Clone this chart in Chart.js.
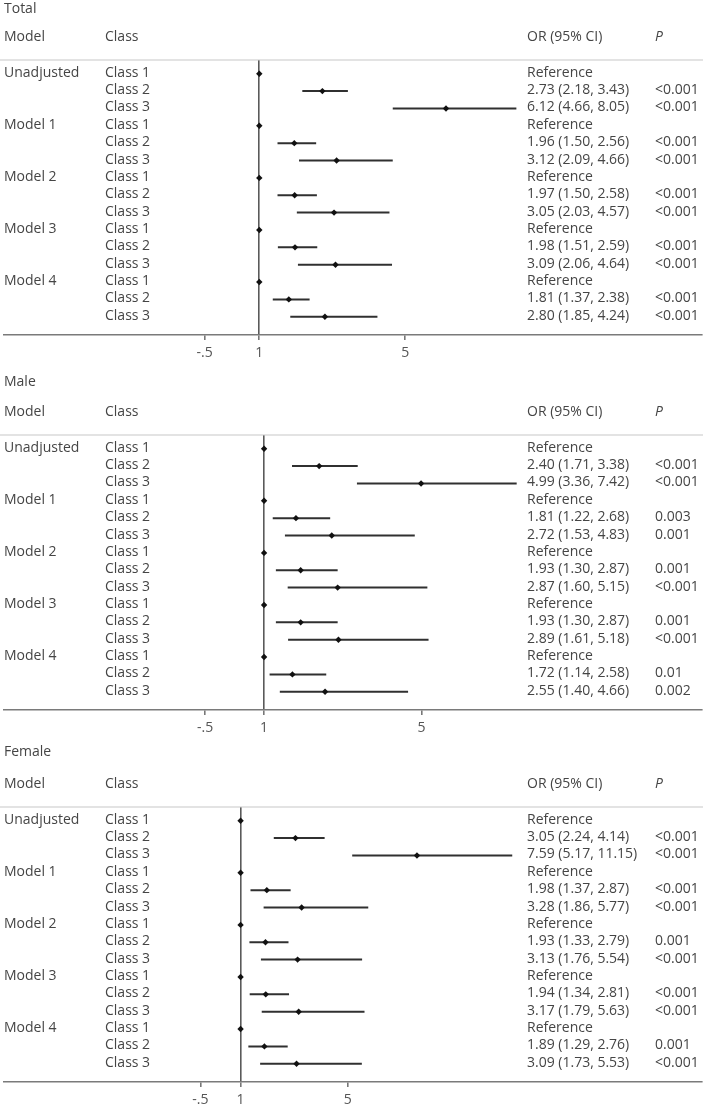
<!DOCTYPE html>
<html><head><meta charset="utf-8">
<script src="https://cdn.jsdelivr.net/npm/chart.js@4"></script>
<style>
html,body{margin:0;padding:0;background:#fff;overflow:hidden;width:709px;height:1111px;position:relative}
.p{position:absolute;left:0;width:709px;height:374px}
</style></head><body>
<div class="p" style="top:-10px"><canvas id="c0"></canvas></div>
<div class="p" style="top:365px"><canvas id="c1"></canvas></div>
<div class="p" style="top:737px"><canvas id="c2"></canvas></div>
<script>
// ---- data ----
const models = ['Unadjusted', 'Model 1', 'Model 2', 'Model 3', 'Model 4'];
const classes = ['Class 1', 'Class 2', 'Class 3'];
const tickValues = [-0.5, 1, 5];
const tickLabels = ['-.5', '1', '5'];

// OR for Class 2 / Class 3 of each model (Class 1 = reference, OR 1)
const totalOR = [2.73, 6.12, 1.96, 3.12, 1.97, 3.05, 1.98, 3.09, 1.81, 2.80];
const totalLo = [2.18, 4.66, 1.50, 2.09, 1.50, 2.03, 1.51, 2.06, 1.37, 1.85];
const totalHi = [3.43, 8.05, 2.56, 4.66, 2.58, 4.57, 2.59, 4.64, 2.38, 4.24];
const totalP  = ['<0.001','<0.001','<0.001','<0.001','<0.001','<0.001','<0.001','<0.001','<0.001','<0.001'];

const maleOR = [2.40, 4.99, 1.81, 2.72, 1.93, 2.87, 1.93, 2.89, 1.72, 2.55];
const maleLo = [1.71, 3.36, 1.22, 1.53, 1.30, 1.60, 1.30, 1.61, 1.14, 1.40];
const maleHi = [3.38, 7.42, 2.68, 4.83, 2.87, 5.15, 2.87, 5.18, 2.58, 4.66];
const maleP  = ['<0.001','<0.001','0.003','0.001','0.001','<0.001','0.001','<0.001','0.01','0.002'];

const femaleOR = [3.05, 7.59, 1.98, 3.28, 1.93, 3.13, 1.94, 3.17, 1.89, 3.09];
const femaleLo = [2.24, 5.17, 1.37, 1.86, 1.33, 1.76, 1.34, 1.79, 1.29, 1.73];
const femaleHi = [4.14, 11.15, 2.87, 5.77, 2.79, 5.54, 2.81, 5.63, 2.76, 5.53];
const femaleP  = ['<0.001','<0.001','<0.001','<0.001','0.001','<0.001','<0.001','<0.001','0.001','<0.001'];

const panelTitles = ['Total', 'Male', 'Female'];
// ---- end data ----

const OFF = 10; // extra top room inside each canvas
const panels = [
  {id:'c0', title:panelTitles[0], or:totalOR, lo:totalLo, hi:totalHi, p:totalP, xmin:-6.0, xmax:13.14, titleY:9},
  {id:'c1', title:panelTitles[1], or:maleOR, lo:maleLo, hi:maleHi, p:maleP, xmin:-5.61, xmax:12.13, titleY:7},
  {id:'c2', title:panelTitles[2], or:femaleOR, lo:femaleLo, hi:femaleHi, p:femaleP, xmin:-7.84, xmax:18.24, titleY:5}
];

Chart.defaults.font.family = "'Open Sans', sans-serif";
Chart.defaults.font.size = 14;
Chart.defaults.color = '#4a4a4a';

const FONT = "14px 'Open Sans', sans-serif";
const TXT = '#454545';

function textPlugin(pn) {
  return {
    id: 'forestText',
    afterDraw(chart) {
      const ctx = chart.ctx;
      const ys = chart.scales.y;
      const top = chart.chartArea.top;
      ctx.save();
      ctx.font = FONT;
      ctx.fillStyle = TXT;
      ctx.textBaseline = 'middle';
      ctx.textAlign = 'left';
      ctx.fillText(pn.title, 4, pn.titleY + OFF);
      ctx.fillText('Model', 4, 37 + OFF);
      ctx.fillText('Class', 105, 37 + OFF);
      ctx.fillText('OR (95% CI)', 527, 37 + OFF);
      ctx.font = "italic 14px 'Open Sans', sans-serif";
      ctx.fillText('P', 655, 37 + OFF);
      ctx.font = FONT;
      // header separator
      ctx.strokeStyle = '#c8c8c8';
      ctx.lineWidth = 1.2;
      ctx.beginPath();
      ctx.moveTo(0, top);
      ctx.lineTo(703, top);
      ctx.stroke();
      for (let m = 0; m < models.length; m++) {
        for (let c = 0; c < classes.length; c++) {
          const r = m * 3 + c;
          const y = ys.getPixelForValue(r) - 1;
          if (c === 0) ctx.fillText(models[m], 4, y);
          ctx.fillText(classes[c], 105, y);
          if (c === 0) {
            ctx.fillText('Reference', 527, y);
          } else {
            const k = m * 2 + (c - 1);
            ctx.fillText(pn.or[k].toFixed(2) + ' (' + pn.lo[k].toFixed(2) + ', ' + pn.hi[k].toFixed(2) + ')', 527, y);
            ctx.fillText(pn.p[k], 655, y);
          }
        }
      }
      ctx.restore();
    }
  };
}

panels.forEach(pn => {
  const pts = [];
  const datasets = [];
  for (let m = 0; m < models.length; m++) {
    pts.push({x: 1, y: m * 3});
    for (let c = 1; c < 3; c++) {
      const k = m * 2 + (c - 1);
      const r = m * 3 + c;
      pts.push({x: pn.or[k], y: r});
      datasets.push({
        type: 'line',
        data: [{x: pn.lo[k], y: r}, {x: pn.hi[k], y: r}],
        borderColor: '#303030',
        borderWidth: 2,
        pointRadius: 0,
        order: 2
      });
    }
  }
  datasets.unshift({
    type: 'scatter',
    data: pts,
    pointStyle: 'rectRot',
    pointRadius: 3.2,
    backgroundColor: '#111',
    borderColor: '#111',
    borderWidth: 0,
    order: 0
  });

  new Chart(document.getElementById(pn.id), {
    type: 'scatter',
    data: {datasets},
    options: {
      responsive: true,
      maintainAspectRatio: false,
      animation: false,
      events: [],
      layout: {padding: {top: 60 + OFF, left: 3, right: 7, bottom: 2}},
      plugins: {legend: {display: false}, tooltip: {enabled: false}},
      scales: {
        x: {
          type: 'linear',
          min: pn.xmin,
          max: pn.xmax,
          afterBuildTicks(scale) { scale.ticks = tickValues.map(v => ({value: v})); },
          afterFit(scale) { scale.height = 27; },
          ticks: {
            autoSkip: false,
            maxRotation: 0,
            padding: 5,
            color: '#555',
            font: {size: 14},
            callback(v) { const i = tickValues.indexOf(v); return i >= 0 ? tickLabels[i] : ''; }
          },
          grid: {
            drawOnChartArea: true,
            color: (c) => (c.tick && c.tick.value === 1) ? '#5a5a5a' : 'rgba(0,0,0,0)',
            tickColor: '#777',
            tickLength: 5,
            lineWidth: 1.6
          },
          border: {display: true, color: '#7a7a7a', width: 1.6}
        },
        y: {
          type: 'linear',
          display: false,
          reverse: true,
          min: -0.79,
          max: 15.05
        }
      }
    },
    plugins: [textPlugin(pn)]
  });
});
</script>
</body></html>
